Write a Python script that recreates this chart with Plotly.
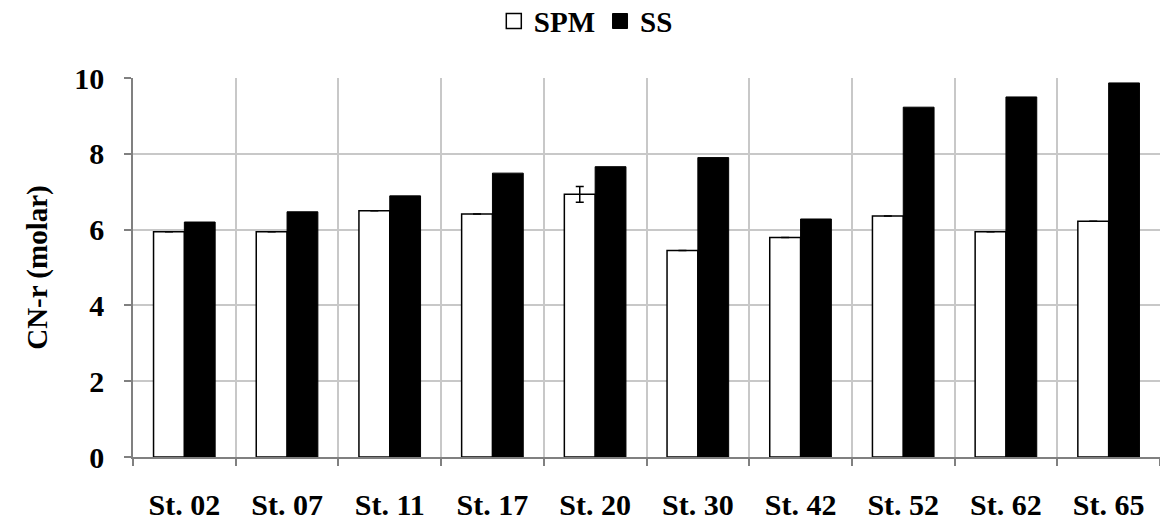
import plotly.graph_objects as go

stations = ["St. 02", "St. 07", "St. 11", "St. 17", "St. 20", "St. 30", "St. 42", "St. 52", "St. 62", "St. 65"]
spm = [5.94, 5.94, 6.50, 6.41, 6.93, 5.45, 5.79, 6.36, 5.94, 6.22]
spm_err = [0, 0, 0, 0, 0.21, 0, 0, 0, 0, 0]
ss = [6.20, 6.47, 6.89, 7.49, 7.66, 7.90, 6.28, 9.23, 9.50, 9.87]
y_ticks = [0, 2, 4, 6, 8, 10]

FONT = "Liberation Serif"

fig = go.Figure()
fig.add_trace(go.Bar(
    x=stations, y=spm, name="SPM", showlegend=False,
    marker=dict(color="white", line=dict(color="black", width=1.5)),
    error_y=dict(type="data", array=spm_err, visible=True, color="black", thickness=1.5, width=4),
))
fig.add_trace(go.Bar(
    x=stations, y=ss, name="SS", showlegend=False,
    marker=dict(color="black", line=dict(color="black", width=1)),
))
# legend-only entries with larger square keys
fig.add_trace(go.Scatter(
    x=[None], y=[None], mode="markers", name="SPM",
    marker=dict(symbol="square", size=15, color="white", line=dict(color="black", width=1.5)),
))
fig.add_trace(go.Scatter(
    x=[None], y=[None], mode="markers", name="SS",
    marker=dict(symbol="square", size=15, color="black", line=dict(color="black", width=1)),
))

fig.update_layout(
    width=1160, height=529,
    margin=dict(l=133, r=0, t=78, b=72, autoexpand=False),
    paper_bgcolor="white", plot_bgcolor="white",
    barmode="group", bargap=0.4, bargroupgap=0,
    font=dict(family=FONT, size=30, color="black", weight="bold"),
    showlegend=True,
    legend=dict(orientation="h", xref="container", yref="container",
                x=0.505, xanchor="center", y=0.96, yanchor="middle",
                font=dict(family=FONT, size=29, weight="bold"),
                itemwidth=30, traceorder="normal", bgcolor="rgba(0,0,0,0)"),
)
fig.update_xaxes(
    type="category", tickson="boundaries", showgrid=True, gridcolor="#c8c8c8", gridwidth=1.5,
    showline=True, linecolor="#808080", linewidth=1.5,
    ticks="outside", ticklen=7, tickcolor="#808080", tickwidth=1.5,
    ticklabelstandoff=20, automargin=False,
    tickfont=dict(family=FONT, size=30, weight="bold"),
)
fig.update_yaxes(
    range=[0, 10], tickvals=y_ticks, showgrid=True, gridcolor="#c8c8c8", gridwidth=1.5,
    showline=True, linecolor="#808080", linewidth=1.5,
    ticks="outside", ticklen=7, tickcolor="#808080", tickwidth=1.5,
    ticklabelstandoff=14, automargin=False,
    tickfont=dict(family=FONT, size=30, weight="bold"),
    title=dict(text="CN-r (molar)", font=dict(family=FONT, size=29, weight="bold"), standoff=18),
    zeroline=False,
)

fig.write_html("out.html", config={"displayModeBar": False},
               post_script="document.body.style.margin='0';")
